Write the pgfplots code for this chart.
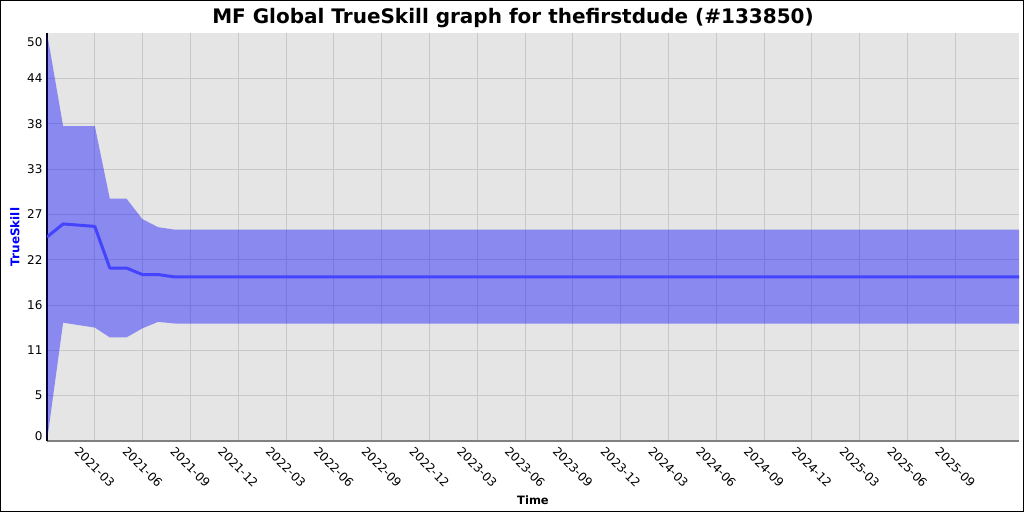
\documentclass[border=0pt]{standalone}
\usepackage{fontspec}
\setmainfont{DejaVu Sans}
\usepackage{pgfplots}
\pgfplotsset{compat=1.18}
\usepackage{pgfplotstable}
\definecolor{bggray}{RGB}{229,229,229}
\definecolor{gridgray}{RGB}{200,200,200}
\definecolor{mucol}{RGB}{68,68,255}
\definecolor{bandcol}{RGB}{0,0,255}
\pgfplotstableread{
x     mu
0     25.0
1.01  26.6
3     26.3
3.94  21.2
4.99  21.2
5.98  20.4
6.97  20.4
8.02  20.1
61    20.1
}\mutable
% band: upper edge forward, lower edge backward
\pgfplotstableread{
x     y
0     50.0
1.01  38.6
3     38.6
3.94  29.7
4.99  29.7
5.98  27.2
6.97  26.2
8.02  25.9
61    25.9
61    14.4
8.02  14.4
6.97  14.6
5.98  13.8
4.99  12.7
3.94  12.7
3     13.9
1.01  14.5
0     0.0
}\bandtable
\begin{document}
\begin{tikzpicture}
\fill[white] (0,0) rectangle (1024pt,512pt);
\draw[black, line width=1pt] (0.5pt,0.5pt) rectangle (1023.5pt,511.5pt);
\node[font=\fontsize{20}{24}\selectfont\bfseries] at (513pt,494pt) {MF Global TrueSkill graph for thefirstdude (\#133850)};
\begin{axis}[
  at={(47pt,71pt)}, anchor=south west,
  scale only axis, width=972pt, height=408pt,
  xmin=0, xmax=61, ymin=0, ymax=50,
  axis background/.style={fill=bggray},
  axis x line*=bottom, axis y line*=left,
  x axis line style={-, draw={rgb,255:red,128;green,128;blue,128}, line width=1.5pt},
  y axis line style={-, draw=black, line width=1.5pt},
  major tick length=0pt,
  grid=major,
  major grid style={draw=gridgray, line width=1pt},
  xtick={3,6,...,57},
  xticklabels={2021-03,2021-06,2021-09,2021-12,2022-03,2022-06,2022-09,2022-12,2023-03,2023-06,2023-09,2023-12,2024-03,2024-06,2024-09,2024-12,2025-03,2025-06,2025-09},
  xticklabel style={font=\fontsize{12}{14}\selectfont, rotate=-45, anchor=center, xshift=18.4pt, yshift=-18.4pt},
  ytick={5.5556,11.1111,16.6667,22.2222,27.7778,33.3333,38.8889,44.4444},
  yticklabels={5,11,16,22,27,33,38,44},
  extra y ticks={0.61,48.9},
  extra y tick labels={0,50},
  extra y tick style={grid=none},
  yticklabel style={font=\fontsize{12}{14}\selectfont, anchor=east, xshift=-1pt},
  /pgf/number format/assume math mode=true,
  xlabel={Time},
  xlabel style={font=\fontsize{11.5}{13}\selectfont\bfseries, at={(axis description cs:0.5,0)}, anchor=center, yshift=-59pt},
  ylabel={TrueSkill},
  ylabel style={font=\fontsize{12}{14}\selectfont\bfseries, color=blue, at={(axis description cs:0,0.5)}, anchor=center, yshift=32pt},
]
\addplot[fill=bandcol, fill opacity=0.4, draw=none] table[x=x, y=y] {\bandtable} -- cycle;
\addplot[mucol, line width=3pt, line join=round] table[x=x, y=mu] {\mutable};
\end{axis}
\end{tikzpicture}
\end{document}
